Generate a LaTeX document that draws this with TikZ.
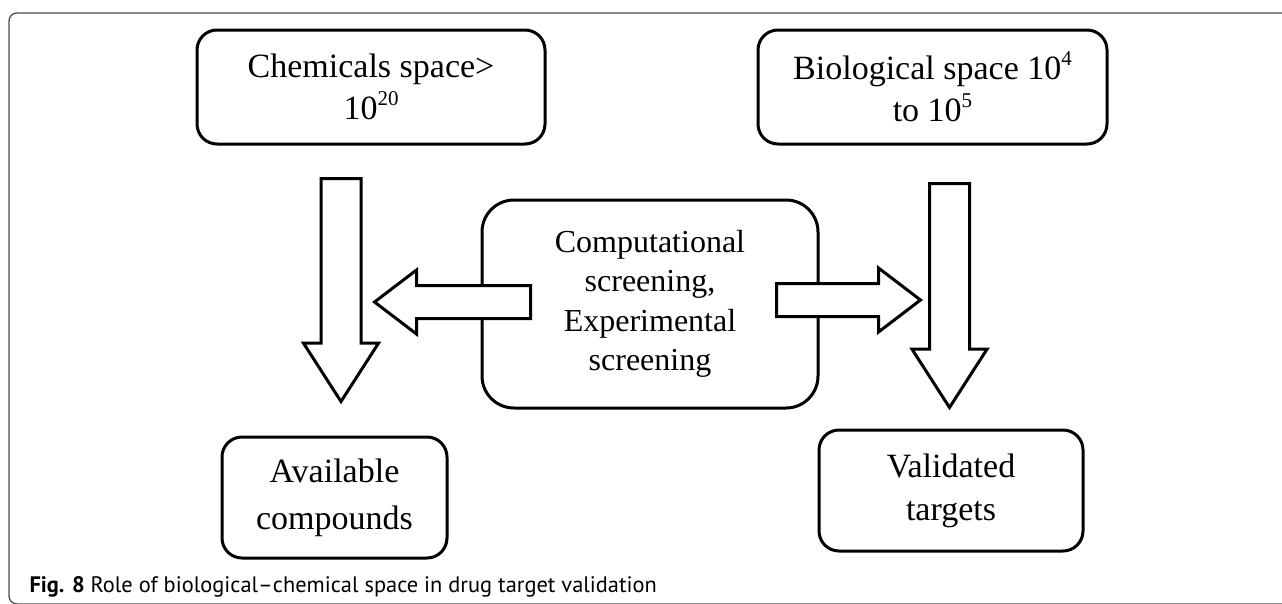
\documentclass[tikz,border=0pt]{standalone}
\usepackage{fontspec}
\setmainfont{Liberation Serif}
\newfontfamily\capfont{PT Sans}
\usetikzlibrary{shapes.arrows}

\newcommand{\powr}[1]{\raisebox{0.42em}{\fontsize{21}{21}\selectfont #1}}

\tikzset{
    box/.style={draw, line width=3pt, rounded corners=20pt, align=center, inner sep=0pt},
    bigtext/.style={font=\fontsize{34}{42}\selectfont},
    fatarrow/.style={single arrow, draw, fill=white, line width=3pt, anchor=tail},
    downarrow/.style={fatarrow, inner sep=18.5pt, minimum width=72pt, single arrow head extend=17.5pt,
        single arrow tip angle=65.5, shape border rotate=270},
    sidearrow/.style={fatarrow, inner sep=15pt, minimum width=61pt, single arrow head extend=15.5pt,
        single arrow tip angle=74.6}
}

\begin{document}
\begin{tikzpicture}[x=1pt,y=-1pt]
        \useasboundingbox (0,0) rectangle (1282,603);
        \clip (0,0) rectangle (1282,603);
        \draw[black!70, line width=1.3pt, rounded corners=8pt] (9,13) rectangle (1300,604);
        \node[box, bigtext, minimum width=348pt, minimum height=114pt] (chem) at (371,87)
            {Chemicals space>\\10\powr{20}};
        \node[box, bigtext, minimum width=349pt, minimum height=114pt] (bio) at (932.5,87)
            {Biological space 10\powr{4}\\to 10\powr{5}};
        \node[box, rounded corners=32pt, minimum width=336pt, minimum height=208pt,
            font=\fontsize{32}{39.5}\selectfont] (screen) at (650,304)
            {Computational\\screening,\\Experimental\\screening};
        \node[box, font=\fontsize{34}{47}\selectfont, minimum width=225pt, minimum height=121pt] (avail)
            at (334.5,497.5) {Available\\compounds};
        \node[box, font=\fontsize{34}{43}\selectfont, minimum width=264pt, minimum height=121pt] (valid)
            at (951,490.5) {Validated\\targets};
        \node[downarrow, minimum height=223pt] (chem2avail) at (341,177) {};
        \node[downarrow, minimum height=224pt] (bio2valid) at (949.5,182) {};
        \node[sidearrow, minimum height=156pt, shape border rotate=180] (screen2avail) at (532,302) {};
        \node[sidearrow, minimum height=144pt] (screen2valid) at (775,300) {};
        \node[anchor=base west, font=\capfont\fontsize{22.4}{26}\selectfont] (caption) at (26,592)
            {\textbf{Fig. 8} Role of biological–chemical space in drug target validation};
    \end{tikzpicture}
\end{document}
